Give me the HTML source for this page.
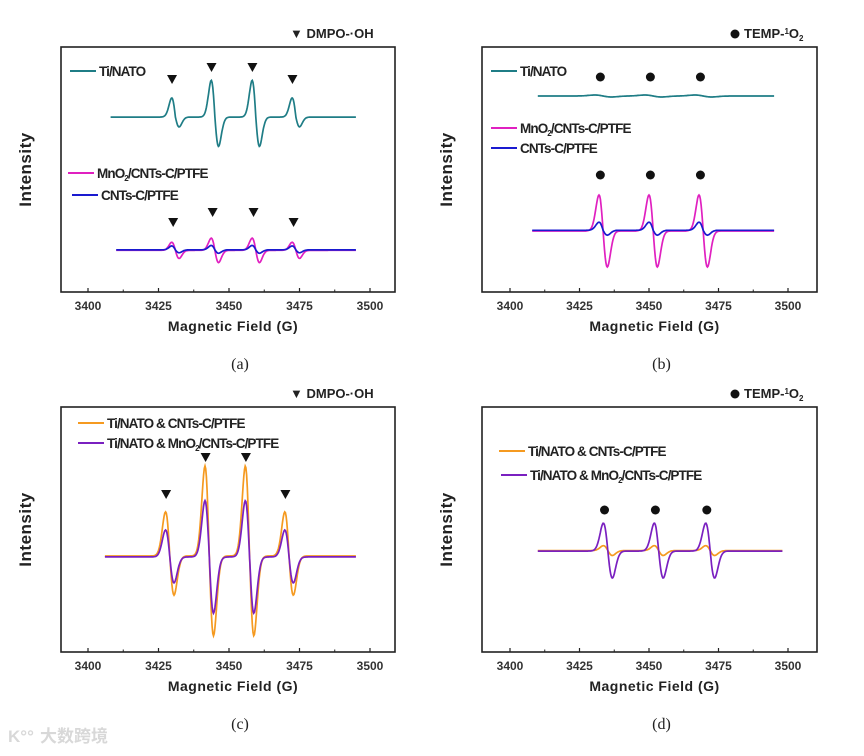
<!DOCTYPE html>
<html><head><meta charset="utf-8"><style>
body{margin:0;background:#fff;width:864px;height:751px;overflow:hidden}
svg{font-family:"Liberation Sans",Arial,sans-serif}
.tk{font-size:12px;font-weight:bold;fill:#333;text-anchor:middle}
.ttl{font-size:14px;font-weight:bold;fill:#222;text-anchor:middle;letter-spacing:0.5px}
.lg{font-size:13.5px;font-weight:bold;fill:#222;letter-spacing:-0.9px}
.cap{font-family:"Liberation Serif",serif;font-size:16px;fill:#222;text-anchor:middle}
</style></head><body>
<svg id="fig" width="864" height="751" viewBox="0 0 864 751"></svg>
<script>
// ---- data ----
const xTicks=[3400,3425,3450,3475,3500];
const aCenters=[3431,3445,3459.5,3473.7];
const aTiUp=[7.8,15,15,7.8];
const aTiDown=[4,12,12,4];
const aMnUp=[3.3,5,5,3.3];
const aMnDown=[3.3,5,5,3.3];
const aCntUp=[1.6,1.8,1.8,1.6];
const aCntDown=[1.2,1.4,1.4,1.2];
const bCenters=[3433.5,3451.5,3469.5];
const bMnUp=[14.7,14.7,14.7];
const bMnDown=[14.7,14.7,14.7];
const bCntUp=[3.3,3.3,3.3];
const bCntDown=[2,2,2];
const cCenters=[3429,3443,3457.3,3471.3];
const cOrUp=[18,36.7,36.7,18];
const cOrDown=[16,32.6,32.6,16];
const cPuUp=[11,23,23,11];
const cPuDown=[10.6,23,23,10.6];
const dCenters=[3435.2,3453.5,3472];
const dPuUp=[11.4,11.4,11.4];
const dPuDown=[11,11,11];
const dOrUp=[2,2,2];
const dOrDown=[2,2,2];

const NS="http://www.w3.org/2000/svg";
const svg=document.getElementById('fig');
function mk(tag,attrs,parent,text){const e=document.createElementNS(NS,tag);for(const k in attrs)e.setAttribute(k,attrs[k]);if(text!==undefined)e.textContent=text;(parent||svg).appendChild(e);return e;}

function panel(id,L,R,T,B,x0px,x1px){
  const g=mk('g',{});
  
  
  const X=v=>x0px+(v-3400)*(x1px-x0px)/100;
  const Y=v=>B-v*(B-T)/100;
  const r=mk('rect',{x:L,y:T,width:R-L,height:B-T,fill:'none',stroke:'#222','stroke-width':1.6},g);
  
  
  for(let i=0;i<xTicks.length;i++){
    const t=xTicks[i];
    mk('line',{x1:X(t),x2:X(t),y1:B,y2:B-4,stroke:'#222','stroke-width':1.2},g);
    if(i<xTicks.length-1)mk('line',{x1:X(t+12.5),x2:X(t+12.5),y1:B,y2:B-2.5,stroke:'#222','stroke-width':1},g);
    const tl=mk('text',{x:X(t),y:B+18,class:'tk'},g,t);
    
    
  }
  const xt=mk('text',{x:(L+R)/2+5,y:B+39,class:'ttl'},g,'Magnetic Field (G)');
  
  
  const yt=mk('text',{x:0,y:0,class:'ttl',transform:`translate(${L-30},${(T+B)/2}) rotate(-90)`,style:'font-size:17px'},g,'Intensity');
  
  
  const cp=mk('text',{x:(L+R)/2+12,y:B+77,class:'cap'},g,'('+id+')');
  
  
  return {g,X,Y};
}
function trace(p,name,color,base,xs,xe,centers,up,down,w){
  let d='';
  for(let x=xs;x<=xe;x+=0.25){
    let v=base;
    for(let i=0;i<centers.length;i++){
      const u=x-centers[i];
      const s=-(u/w)*Math.exp(0.5-u*u/(2*w*w));
      v+=s*(s>0?up[i]:down[i]);
    }
    d+=(d?'L':'M')+p.X(x).toFixed(1)+','+p.Y(v).toFixed(1);
  }
  const e=mk('path',{d,fill:'none',stroke:color,'stroke-width':1.7},p.g);
  
  
}
function legend(p,x,y,color,label,sub){
  mk('line',{x1:x,x2:x+26,y1:y,y2:y,stroke:color,'stroke-width':2},p.g);
  const t=mk('text',{x:x+29,y:y+5,class:'lg'},p.g);
  
  
  if(sub){const parts=label.split('|');t.appendChild(document.createTextNode(parts[0]));mk('tspan',{dy:3,style:'font-size:8px'},t,'2');mk('tspan',{dy:-3},t,parts[1]);}
  else t.textContent=label;
}
function tri(p,x,y){const X=p.X(x);const e=mk('path',{d:`M${X-5},${y-5}L${X+5},${y-5}L${X},${y+4}Z`,fill:'#111'},p.g);}
function dot(p,x,y){const e=mk('circle',{cx:p.X(x),cy:y,r:4.5,fill:'#111'},p.g);}
function header(p,x,y,kind){
  const t=mk('text',{x:x,y:y,class:'lg',style:'font-size:13px;letter-spacing:0'},p.g);
  
  
  if(kind==='tri'){t.textContent='▼ DMPO-·OH';}
  else{mk('circle',{cx:x+5,cy:y-4,r:4.5,fill:'#111'},p.g);mk('tspan',{dx:14},t,'TEMP-');mk('tspan',{dy:-4,style:'font-size:8px'},t,'1');mk('tspan',{dy:4},t,'O');mk('tspan',{dy:3,style:'font-size:8px'},t,'2');}
}

// (a)
const pa=panel('a',61,395,47,292,88,370);
header(pa,290,38,'tri');
trace(pa,'series-ti-nato','#1f7d86',71.4,3408,3495,aCenters,aTiUp,aTiDown,1.3);
trace(pa,'series-mno2-cnts','#e020c0',17,3410,3495,aCenters,aMnUp,aMnDown,1.3);
trace(pa,'series-cnts','#1a1ad0',17.2,3410,3495,aCenters,aCntUp,aCntDown,1.3);
legend(pa,70,71,'#1f7d86','Ti/NATO');
legend(pa,68,173,'#e020c0','MnO|/CNTs-C/PTFE',true);
legend(pa,72,195,'#1a1ad0','CNTs-C/PTFE');
[80,68,68,80].forEach((y,i)=>tri(pa,aCenters[i]-1.2,y));
[223,213,213,223].forEach((y,i)=>tri(pa,aCenters[i]-0.8,y));

// (b)
const pb=panel('b',482,817,47,292,510,788);
header(pb,730,38,'dot');
trace(pb,'series-ti-nato','#1f7d86',80,3410,3495,bCenters,[0.4,0.4,0.4],[0.4,0.4,0.4],3);
trace(pb,'series-mno2-cnts','#e020c0',24.9,3408,3495,bCenters,bMnUp,bMnDown,1.5);
trace(pb,'series-cnts','#1a1ad0',25.2,3408,3495,bCenters,bCntUp,bCntDown,1.5);
legend(pb,491,71,'#1f7d86','Ti/NATO');
legend(pb,491,128,'#e020c0','MnO|/CNTs-C/PTFE',true);
legend(pb,491,148,'#1a1ad0','CNTs-C/PTFE');
bCenters.forEach(c=>dot(pb,c-1,77));
bCenters.forEach(c=>dot(pb,c-1,175));

// (c)
const pc=panel('c',61,395,407,652,88,370);
header(pc,290,398,'tri');
trace(pc,'series-ti-cnts','#f59a20',39.2,3406,3495,cCenters,cOrUp,cOrDown,1.5);
trace(pc,'series-ti-mno2','#7a20c0',38.8,3406,3495,cCenters,cPuUp,cPuDown,1.5);
legend(pc,78,423,'#f59a20','Ti/NATO & CNTs-C/PTFE');
legend(pc,78,443,'#7a20c0','Ti/NATO & MnO|/CNTs-C/PTFE',true);
[495,458,458,495].forEach((y,i)=>tri(pc,cCenters[i]-1.3,y));

// (d)
const pd=panel('d',482,817,407,652,510,788);
header(pd,730,398,'dot');
trace(pd,'series-ti-cnts','#f59a20',41.4,3410,3498,dCenters,dOrUp,dOrDown,1.6);
trace(pd,'series-ti-mno2','#7a20c0',41.2,3410,3498,dCenters,dPuUp,dPuDown,1.6);
legend(pd,499,451,'#f59a20','Ti/NATO & CNTs-C/PTFE');
legend(pd,501,475,'#7a20c0','Ti/NATO & MnO|/CNTs-C/PTFE',true);
dCenters.forEach(c=>dot(pd,c-1.2,510));

const wm=mk('text',{x:40,y:742,style:'font-size:17px;font-weight:bold;fill:#d8d8d8;font-family:"Liberation Sans","Noto Sans CJK SC",sans-serif'},svg,'大数跨境');


const wl=mk('text',{x:8,y:742,style:'font-size:17px;font-weight:bold;fill:#d8d8d8'},svg,'K°°');


</script>
</body></html>
